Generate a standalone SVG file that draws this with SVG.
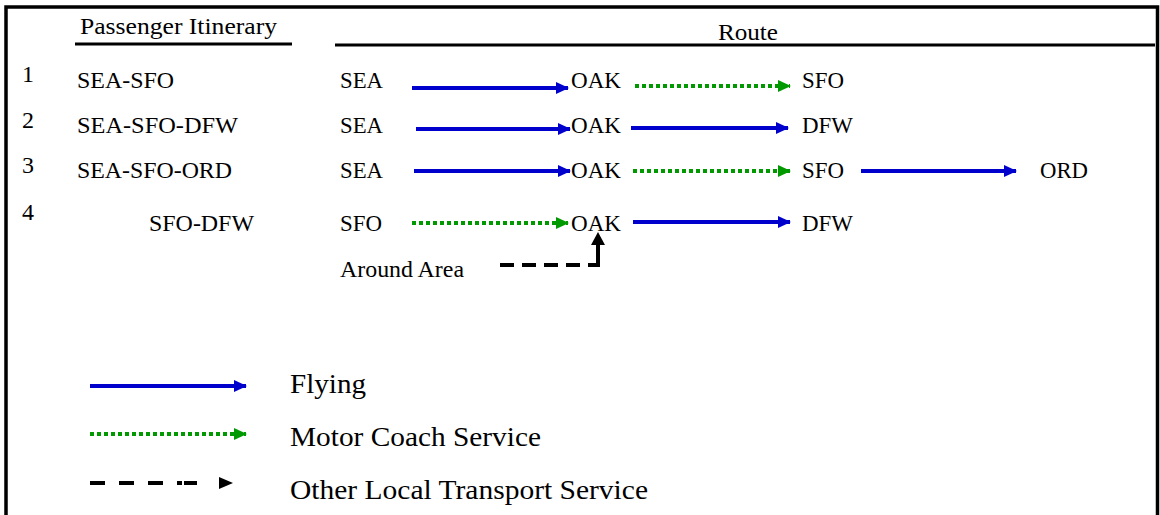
<svg xmlns="http://www.w3.org/2000/svg" width="1160" height="515" viewBox="0 0 1160 515">
  <style>
    text { font-family: "Liberation Serif", "Times New Roman", serif; fill: #000; }
    .hdr { font-size: 24px; }
    .lbl { font-size: 24px; }
    .leg { font-size: 28px; }
    .fly { stroke: #0000cc; stroke-width: 4; fill: none; }
    .bus { stroke: #009900; stroke-width: 4; fill: none; stroke-dasharray: 4 3; }
    .loc { stroke: #000; stroke-width: 4; fill: none; }
  </style>
  <defs>
    <marker id="ah-blue" markerUnits="userSpaceOnUse" markerWidth="14" markerHeight="12" refX="12" refY="6" orient="auto">
      <path d="M0,0 L13,6 L0,12 z" fill="#0000cc"/>
    </marker>
    <marker id="ah-green" markerUnits="userSpaceOnUse" markerWidth="14" markerHeight="12" refX="12" refY="6" orient="auto">
      <path d="M0,0 L13,6 L0,12 z" fill="#009900"/>
    </marker>
    <marker id="ah-black" markerUnits="userSpaceOnUse" markerWidth="14" markerHeight="14" refX="12" refY="7" orient="auto">
      <path d="M0,0 L13,7 L0,14 z" fill="#000"/>
    </marker>
  </defs>

  <rect width="1160" height="515" fill="#fff"/>

  <!-- frame (open at the bottom) -->
  <path d="M6,515 V7 H1157.5 V515" fill="none" stroke="#000" stroke-width="3.5"/>

  <!-- column headers -->
  <g id="header-itinerary">
    <text class="hdr" x="80" y="34" textLength="197" lengthAdjust="spacingAndGlyphs">Passenger Itinerary</text>
    <line x1="75" y1="44" x2="292" y2="44" stroke="#000" stroke-width="3"/>
  </g>
  <g id="header-route">
    <text class="hdr" x="718" y="40" textLength="60" lengthAdjust="spacingAndGlyphs">Route</text>
    <line x1="335" y1="45" x2="1155" y2="45" stroke="#000" stroke-width="3"/>
  </g>

  <!-- row numbers and itineraries -->
  <g id="itineraries">
    <text class="lbl" x="22" y="82">1</text>
    <text class="lbl" x="22" y="128">2</text>
    <text class="lbl" x="22" y="173">3</text>
    <text class="lbl" x="22" y="220">4</text>
    <text class="lbl" x="77" y="88" textLength="97" lengthAdjust="spacingAndGlyphs">SEA-SFO</text>
    <text class="lbl" x="77" y="133" textLength="161" lengthAdjust="spacingAndGlyphs">SEA-SFO-DFW</text>
    <text class="lbl" x="77" y="178" textLength="155" lengthAdjust="spacingAndGlyphs">SEA-SFO-ORD</text>
    <text class="lbl" x="149" y="231" textLength="105" lengthAdjust="spacingAndGlyphs">SFO-DFW</text>
  </g>

  <!-- airport / place nodes -->
  <g id="row1-nodes">
    <text class="lbl" x="340" y="88" textLength="43" lengthAdjust="spacingAndGlyphs">SEA</text>
    <text class="lbl" x="571" y="88" textLength="50" lengthAdjust="spacingAndGlyphs">OAK</text>
    <text class="lbl" x="802" y="88" textLength="42" lengthAdjust="spacingAndGlyphs">SFO</text>
  </g>
  <g id="row2-nodes">
    <text class="lbl" x="340" y="133" textLength="43" lengthAdjust="spacingAndGlyphs">SEA</text>
    <text class="lbl" x="571" y="133" textLength="50" lengthAdjust="spacingAndGlyphs">OAK</text>
    <text class="lbl" x="802" y="133" textLength="51" lengthAdjust="spacingAndGlyphs">DFW</text>
  </g>
  <g id="row3-nodes">
    <text class="lbl" x="340" y="178" textLength="43" lengthAdjust="spacingAndGlyphs">SEA</text>
    <text class="lbl" x="571" y="178" textLength="50" lengthAdjust="spacingAndGlyphs">OAK</text>
    <text class="lbl" x="802" y="178" textLength="42" lengthAdjust="spacingAndGlyphs">SFO</text>
    <text class="lbl" x="1040" y="178" textLength="48" lengthAdjust="spacingAndGlyphs">ORD</text>
  </g>
  <g id="row4-nodes">
    <text class="lbl" x="340" y="231" textLength="42" lengthAdjust="spacingAndGlyphs">SFO</text>
    <text class="lbl" x="571" y="231" textLength="50" lengthAdjust="spacingAndGlyphs">OAK</text>
    <text class="lbl" x="802" y="231" textLength="51" lengthAdjust="spacingAndGlyphs">DFW</text>
    <text class="lbl" x="340" y="277" textLength="124" lengthAdjust="spacingAndGlyphs">Around Area</text>
  </g>

  <!-- connectors -->
  <g id="connectors">
    <line class="fly" x1="412" y1="88" x2="568" y2="88" marker-end="url(#ah-blue)"/>
    <line class="bus" x1="635" y1="86" x2="790" y2="86" marker-end="url(#ah-green)"/>

    <line class="fly" x1="416" y1="129" x2="570" y2="129" marker-end="url(#ah-blue)"/>
    <line class="fly" x1="631" y1="128" x2="788" y2="128" marker-end="url(#ah-blue)"/>

    <line class="fly" x1="414" y1="171" x2="570" y2="171" marker-end="url(#ah-blue)"/>
    <line class="bus" x1="633" y1="171" x2="790" y2="171" marker-end="url(#ah-green)"/>
    <line class="fly" x1="861" y1="171" x2="1016" y2="171" marker-end="url(#ah-blue)"/>

    <line class="bus" x1="412" y1="223" x2="568" y2="223" marker-end="url(#ah-green)"/>
    <line class="fly" x1="633" y1="222" x2="790" y2="222" marker-end="url(#ah-blue)"/>

    <path class="loc" d="M500,265 H598 V233" stroke-dasharray="14 8 14 8 14 8 14 8 30" marker-end="url(#ah-black)"/>
  </g>

  <!-- legend -->
  <g id="legend-flying">
    <line class="fly" x1="90" y1="386" x2="246" y2="386" marker-end="url(#ah-blue)"/>
    <text class="leg" x="290" y="393" textLength="76" lengthAdjust="spacingAndGlyphs">Flying</text>
  </g>
  <g id="legend-coach">
    <line class="bus" x1="90" y1="434" x2="246" y2="434" marker-end="url(#ah-green)"/>
    <text class="leg" x="290" y="446" textLength="251" lengthAdjust="spacingAndGlyphs">Motor Coach Service</text>
  </g>
  <g id="legend-local">
    <path d="M90,483 H105 M119,483 H134 M148,483 H163 M177,483 H182 M184,483 H197" stroke="#000" stroke-width="4" fill="none"/>
    <path d="M219,477 L233,483 L219,489 z" fill="#000"/>
    <text class="leg" x="290" y="499" textLength="358" lengthAdjust="spacingAndGlyphs">Other Local Transport Service</text>
  </g>
</svg>
